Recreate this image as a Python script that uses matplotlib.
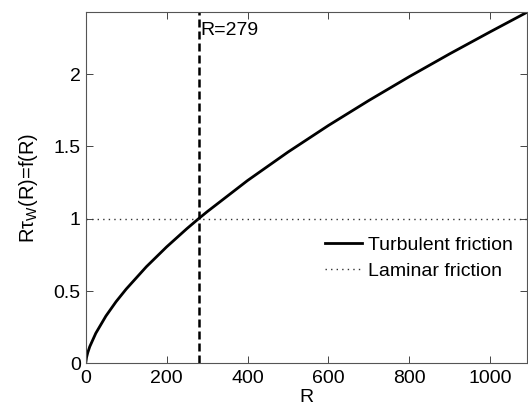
import matplotlib
matplotlib.use("Agg")
import matplotlib.pyplot as plt
import numpy as np

plt.rcParams['font.family'] = ['Liberation Sans', 'DejaVu Sans']
plt.rcParams['mathtext.fontset'] = 'custom'
plt.rcParams['mathtext.rm'] = 'Liberation Sans'
plt.rcParams['mathtext.it'] = 'Liberation Sans'

# f(R) = R*tau_w(R), turbulent friction curve
R_vals = [0, 2, 5, 10, 25, 50, 75, 100, 150, 200, 250, 279, 300, 400, 500,
          600, 700, 800, 900, 1000, 1092]
f_vals = [0.0, 0.040, 0.073, 0.115, 0.208, 0.327, 0.426, 0.513, 0.668, 0.805,
          0.931, 1.0, 1.048, 1.264, 1.461, 1.645, 1.818, 1.983, 2.141, 2.293,
          2.43]

R_cross = 279
laminar_level = 1.0

x_ticks = [0, 200, 400, 600, 800, 1000]
y_ticks = [0, 0.5, 1, 1.5, 2]

fig = plt.figure(figsize=(5.28, 4.08), dpi=100)
ax = fig.add_axes([0.1623, 0.1096, 0.8367, 0.861])

ax.plot(R_vals, f_vals, color='black', lw=2.0, label='Turbulent friction')
ax.axhline(laminar_level, color='#333333', lw=1.0, dashes=(1, 3),
           label='Laminar friction')
ax.axvline(R_cross, color='black', lw=1.8, dashes=(3.2, 1.6))
ax.text(R_cross + 5, 2.30, 'R=%d' % R_cross, fontsize=14, va='center',
        ha='left')

ax.set_xlim(0, R_vals[-1])
ax.set_ylim(0, f_vals[-1])
ax.set_xticks(x_ticks)
ax.set_yticks(y_ticks)
ax.set_yticklabels(['0', '0.5', '1', '1.5', '2'])

ax.tick_params(direction='in', length=5, width=0.7, labelsize=14,
               top=True, right=True, colors='#444444', labelcolor='black')
ax.tick_params(axis='x', pad=5)
for sp in ax.spines.values():
    sp.set_color('#555555')
    sp.set_linewidth(0.8)

ax.set_xlabel('R', fontsize=14, labelpad=1)
ax.set_ylabel(r'R$\tau_W$(R)=f(R)', fontsize=14.5, labelpad=10)

ax.legend(loc='upper left', bbox_to_anchor=(0.541, 0.362), frameon=False,
          fontsize=14, borderpad=0, borderaxespad=0, handlelength=1.9,
          handletextpad=0.35, labelspacing=0.45)

fig.savefig('out.png', dpi=100)
